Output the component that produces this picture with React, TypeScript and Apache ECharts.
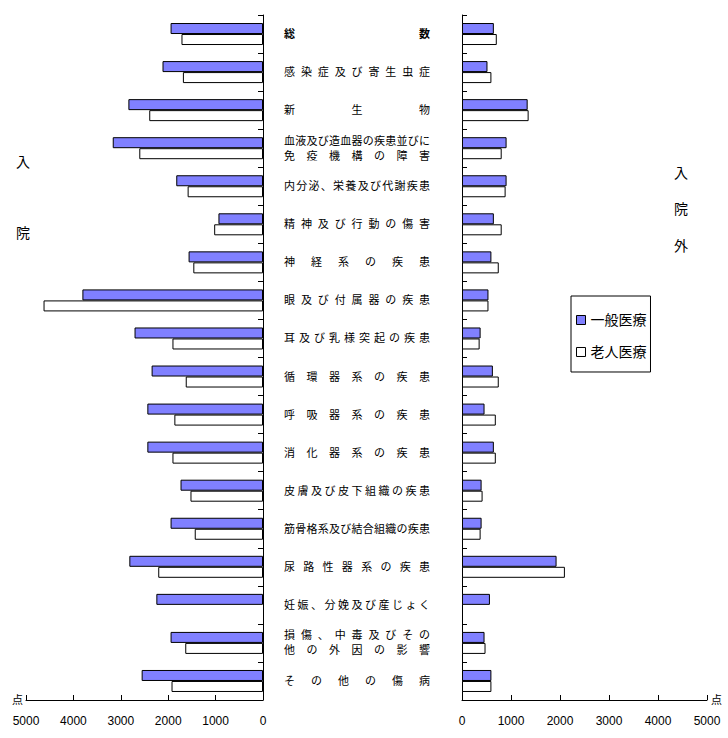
import React, { useEffect, useRef } from 'react';
import * as echarts from 'echarts';

const categories = [
  '総数',
  '感染症及び寄生虫症',
  '新生物',
  '血液及び造血器の疾患並びに\n免疫機構の障害',
  '内分泌、栄養及び代謝疾患',
  '精神及び行動の傷害',
  '神経系の疾患',
  '眼及び付属器の疾患',
  '耳及び乳様突起の疾患',
  '循環器系の疾患',
  '呼吸器系の疾患',
  '消化器系の疾患',
  '皮膚及び皮下組織の疾患',
  '筋骨格系及び結合組織の疾患',
  '尿路性器系の疾患',
  '妊娠、分娩及び産じょく',
  '損傷、中毒及びその\n他の外因の影響',
  'その他の傷病',
];

const inpatientGeneral = [1950, 2120, 2840, 3170, 1830, 940, 1570, 3810, 2710, 2350, 2440, 2440, 1740, 1950, 2820, 2250, 1950, 2560];
const inpatientElderly = [1720, 1690, 2400, 2610, 1590, 1030, 1470, 4630, 1910, 1630, 1870, 1910, 1530, 1440, 2210, null, 1640, 1930];
const outpatientGeneral = [650, 520, 1340, 910, 910, 650, 600, 540, 380, 630, 460, 650, 400, 400, 1930, 570, 460, 600];
const outpatientElderly = [710, 600, 1360, 810, 890, 810, 750, 540, 360, 750, 690, 690, 420, 380, 2100, null, 480, 600];

const seriesNames = ['一般医療', '老人医療'];
const axisTicks = [0, 5000, 1000];

const BLUE = '#8080ff';
const FONT = '"Liberation Sans", "Noto Sans CJK JP", sans-serif';
const LABEL_W = 146;
const CH_W = 11;

function fmt(value: string) {
  const bold = value === '総数';
  return value
    .split('\n')
    .map((line) => {
      const chars = Array.from(line);
      const n = chars.length;
      return chars
        .map((c, i) => (i < n - 1 ? `{${bold ? 'b' : 'w'}${n}|${c}}` : `{${bold ? 'bl' : 'l'}|${c}}`))
        .join('');
    })
    .join('\n');
}

function buildRich() {
  const rich: Record<string, any> = {};
  for (let n = 2; n <= 14; n++) {
    const w = (LABEL_W - CH_W) / (n - 1);
    rich['w' + n] = { width: w, fontSize: 11, lineHeight: 15, color: '#000', fontFamily: FONT };
    rich['b' + n] = { width: w, fontSize: 11, lineHeight: 15, color: '#000', fontWeight: 'bold', fontFamily: FONT };
  }
  rich.l = { fontSize: 11, lineHeight: 15, color: '#000', fontFamily: FONT };
  rich.bl = { fontSize: 11, lineHeight: 15, color: '#000', fontWeight: 'bold', fontFamily: FONT };
  return rich;
}

export default function App() {
  const ref = useRef<HTMLDivElement>(null);
  useEffect(() => {
    document.body.style.margin = '0';
    const chart = echarts.init(ref.current!, null, { renderer: 'svg' });
    const axisLine = { show: true, lineStyle: { color: '#000', width: 1 } };
    const valueAxisBase = {
      type: 'value' as const,
      min: axisTicks[0],
      max: axisTicks[1],
      interval: axisTicks[2],
      splitLine: { show: false },
      axisLine,
      axisTick: { show: true, inside: true, length: 5, lineStyle: { color: '#000' } },
      axisLabel: { color: '#000', fontSize: 12, fontFamily: FONT, margin: 15, formatter: (v: number) => String(v) },
      name: '点',
      nameLocation: 'end' as const,
      nameTextStyle: { color: '#000', fontSize: 11, fontFamily: FONT, verticalAlign: 'middle' as const },
    };
    const barStyle = (color: string) => ({ color, borderColor: '#000', borderWidth: 1 });
    chart.setOption({
      animation: false,
      textStyle: { fontFamily: FONT },
      legend: {
        orient: 'vertical',
        left: 571,
        top: 296,
        width: 70,
        padding: [17, 4, 13, 5],
        itemGap: 18,
        itemWidth: 9,
        itemHeight: 9,
        borderColor: '#000',
        borderWidth: 1,
        textStyle: { color: '#000', fontSize: 14, fontFamily: FONT },
        data: [
          { name: seriesNames[0], icon: 'rect', itemStyle: barStyle(BLUE) },
          { name: seriesNames[1], icon: 'rect', itemStyle: barStyle('#fff') },
        ],
      },
      grid: [
        { left: 26, right: 465, top: 15, bottom: 38, containLabel: false },
        { left: 462, right: 21, top: 15, bottom: 38, containLabel: false },
      ],
      xAxis: [
        { ...valueAxisBase, gridIndex: 0, inverse: true, nameGap: 3 },
        { ...valueAxisBase, gridIndex: 1, nameGap: 4 },
      ],
      yAxis: [
        {
          type: 'category',
          gridIndex: 0,
          data: categories,
          inverse: true,
          position: 'right',
          axisLine,
          axisTick: { show: true, inside: true, length: 5, lineStyle: { color: '#000' } },
          axisLabel: {
            show: true,
            interval: 0,
            margin: 21,
            align: 'left',
            formatter: (v: string) => fmt(v),
            rich: buildRich(),
          },
        },
        {
          type: 'category',
          gridIndex: 1,
          data: categories,
          inverse: true,
          position: 'left',
          axisLine,
          axisTick: { show: true, inside: true, length: 5, lineStyle: { color: '#000' } },
          axisLabel: { show: false },
        },
      ],
      series: [
        { name: seriesNames[0], type: 'bar', xAxisIndex: 0, yAxisIndex: 0, data: inpatientGeneral, barWidth: 11, barGap: '0%', itemStyle: barStyle(BLUE) },
        { name: seriesNames[1], type: 'bar', xAxisIndex: 0, yAxisIndex: 0, data: inpatientElderly, barWidth: 11, barGap: '0%', itemStyle: barStyle('#fff') },
        { name: seriesNames[0], type: 'bar', xAxisIndex: 1, yAxisIndex: 1, data: outpatientGeneral, barWidth: 11, barGap: '0%', itemStyle: barStyle(BLUE) },
        { name: seriesNames[1], type: 'bar', xAxisIndex: 1, yAxisIndex: 1, data: outpatientElderly, barWidth: 11, barGap: '0%', itemStyle: barStyle('#fff') },
      ],
      graphic: [
        { type: 'text', left: 16, top: 155, style: { text: '入', fontSize: 14, fill: '#000', fontFamily: FONT } },
        { type: 'text', left: 16, top: 226, style: { text: '院', fontSize: 14, fill: '#000', fontFamily: FONT } },
        { type: 'text', left: 674, top: 166, style: { text: '入', fontSize: 14, fill: '#000', fontFamily: FONT } },
        { type: 'text', left: 674, top: 202, style: { text: '院', fontSize: 14, fill: '#000', fontFamily: FONT } },
        { type: 'text', left: 674, top: 239, style: { text: '外', fontSize: 14, fill: '#000', fontFamily: FONT } },
      ],
    });
    return () => chart.dispose();
  }, []);
  return <div ref={ref} style={{ position: 'absolute', left: 0, top: 0, width: 728, height: 738 }} />;
}
